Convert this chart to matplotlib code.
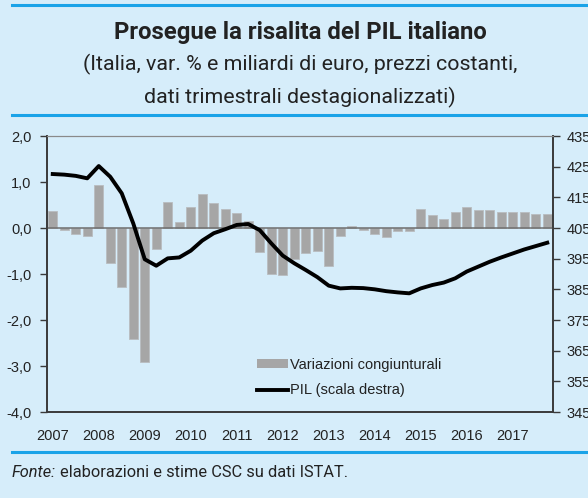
import matplotlib
matplotlib.use("Agg")
import matplotlib.pyplot as plt
from matplotlib.lines import Line2D
from matplotlib.patches import Patch

# ---------------- data ----------------
years = ["2007", "2008", "2009", "2010", "2011", "2012",
         "2013", "2014", "2015", "2016", "2017"]
var_cong = [0.38, -0.04, -0.12, -0.17,
            0.93, -0.75, -1.28, -2.41,
            -2.91, -0.45, 0.57, 0.12,
            0.46, 0.75, 0.54, 0.41,
            0.32, 0.15, -0.52, -0.99,
            -1.02, -0.68, -0.54, -0.49,
            -0.83, -0.17, 0.04, -0.05,
            -0.12, -0.20, -0.07, -0.06,
            0.41, 0.28, 0.20, 0.35,
            0.45, 0.40, 0.40, 0.35,
            0.35, 0.35, 0.30, 0.30]
pil = [422.6, 422.4, 422.0, 421.2,
       425.2, 421.7, 416.3, 406.5,
       394.8, 392.7, 395.1, 395.4,
       397.6, 400.9, 403.3, 404.6,
       406.0, 406.3, 404.3, 400.0,
       396.0, 393.5, 391.3, 389.0,
       386.2, 385.3, 385.5, 385.4,
       385.0, 384.4, 384.0, 383.7,
       385.3, 386.4, 387.2, 388.6,
       390.8, 392.4, 394.0, 395.4,
       396.7, 398.0, 399.1, 400.2]
left_ticks = [-4, -3, -2, -1, 0, 1, 2]
right_ticks = [345, 355, 365, 375, 385, 395, 405, 415, 425, 435]

title = "Prosegue la risalita del PIL italiano"
subtitle1 = "(Italia, var. % e miliardi di euro, prezzi costanti,"
subtitle2 = "dati trimestrali destagionalizzati)"
label_bar = "Variazioni congiunturali"
label_line = "PIL (scala destra)"
source_label = "Fonte:"
source_text = "elaborazioni e stime CSC su dati ISTAT."

# ---------------- style ----------------
BG = "#d6edfa"
BLUE = "#1aa3e8"
BAR = "#a6a6a6"
TXT = "#222222"
HEAD = ["Roboto", "DejaVu Sans"]
plt.rcParams["font.family"] = ["Liberation Sans", "DejaVu Sans"]

W, H = 588, 498
fig = plt.figure(figsize=(W / 100, H / 100), dpi=100, facecolor=BG)


def fx(px):
    return px / W


def fy(py):
    return 1 - py / H


# axes box
x0, x1, y0, y1 = 47, 553, 136, 412
ax = fig.add_axes([fx(x0), fy(y1), fx(x1) - fx(x0), fy(y0) - fy(y1)])
ax.set_facecolor(BG)

n = len(var_cong)
xs = list(range(n))
ax.bar(xs, var_cong, width=0.74, color=BAR, edgecolor="#b9bdc0",
       linewidth=0.6, zorder=2)
ax.axhline(0, color="#6e6e6e", lw=1.1, zorder=3)
ax.set_xlim(-0.5, n - 0.5)
ax.set_ylim(-4, 2)
ax.set_yticks(left_ticks)
ax.set_yticklabels([f"{v:.1f}".replace(".", ",") for v in left_ticks])
ax.set_xticks(xs[::4])
ax.set_xticklabels(years)

ax2 = ax.twinx()
ax2.plot(xs, pil, color="black", lw=2.8, zorder=5, solid_joinstyle="round")
ax2.set_ylim(345, 435)
ax2.set_yticks(right_ticks)
ax2.set_yticklabels([str(v) for v in right_ticks])

for a in (ax, ax2):
    for s in a.spines.values():
        s.set_color("#3a3a3a")
        s.set_linewidth(1.2)
    a.spines["top"].set_color("#8a8a8a")
    a.spines["top"].set_linewidth(0.8)

ax.tick_params(axis="y", direction="out", length=5, width=1, color="#3a3a3a",
               pad=6, labelsize=10.5, labelcolor=TXT)
ax.tick_params(axis="x", length=0, pad=12, labelsize=10.5, labelcolor=TXT)
ax2.tick_params(axis="y", direction="out", length=5, width=1, color="#3a3a3a",
                pad=5, labelsize=10.5, labelcolor=TXT)

# legend
handles = [Patch(facecolor=BAR, edgecolor="none"),
           Line2D([0], [0], color="black", lw=2.8)]
leg = fig.legend(handles, [label_bar, label_line], loc="upper left",
                 bbox_to_anchor=(fx(257), fy(358)), frameon=False,
                 borderpad=0, borderaxespad=0, handlelength=2.1,
                 handleheight=0.55, handletextpad=0.15, labelspacing=0.78,
                 fontsize=10.5)
for t in leg.get_texts():
    t.set_color(TXT)

# blue rules
for yy in (5, 115, 452):
    fig.add_artist(Line2D([fx(12), 1], [fy(yy), fy(yy)], color=BLUE, lw=2.2))

# titles (font size fitted to the reference text widths)
cx = fx(300)
t_title = fig.text(cx, fy(33), title, ha="center", va="center", fontsize=14,
                   fontweight="bold", family=HEAD, color=TXT)
t_s1 = fig.text(cx, fy(64), subtitle1, ha="center", va="center", fontsize=13,
                family=HEAD, color=TXT)
t_s2 = fig.text(cx, fy(97), subtitle2, ha="center", va="center", fontsize=13,
                family=HEAD, color=TXT)
t_f1 = fig.text(fx(12), fy(472), source_label, ha="left", va="center",
                fontsize=11, style="italic", family=HEAD, color=TXT)
t_f2 = fig.text(fx(60), fy(472), source_text, ha="left", va="center",
                fontsize=11, family=HEAD, color=TXT)

fig.canvas.draw()
r = fig.canvas.get_renderer()


def fit_size(t, target):
    w = t.get_window_extent(r).width
    return t.get_fontsize() * target / w


t_title.set_fontsize(fit_size(t_title, 375))
s_sub = fit_size(t_s1, 436)
t_s1.set_fontsize(s_sub)
t_s2.set_fontsize(s_sub)
# fonte line: total width ~330 px
w1 = t_f1.get_window_extent(r).width
w2 = t_f2.get_window_extent(r).width
k = 330 / (w1 + w2)
t_f1.set_fontsize(t_f1.get_fontsize() * k)
t_f2.set_fontsize(t_f2.get_fontsize() * k)
fig.canvas.draw()
bb = t_f1.get_window_extent(r)
t_f2.set_x(bb.x1 / W + 4 / W)

fig.savefig("out.png", dpi=100, facecolor=BG)
